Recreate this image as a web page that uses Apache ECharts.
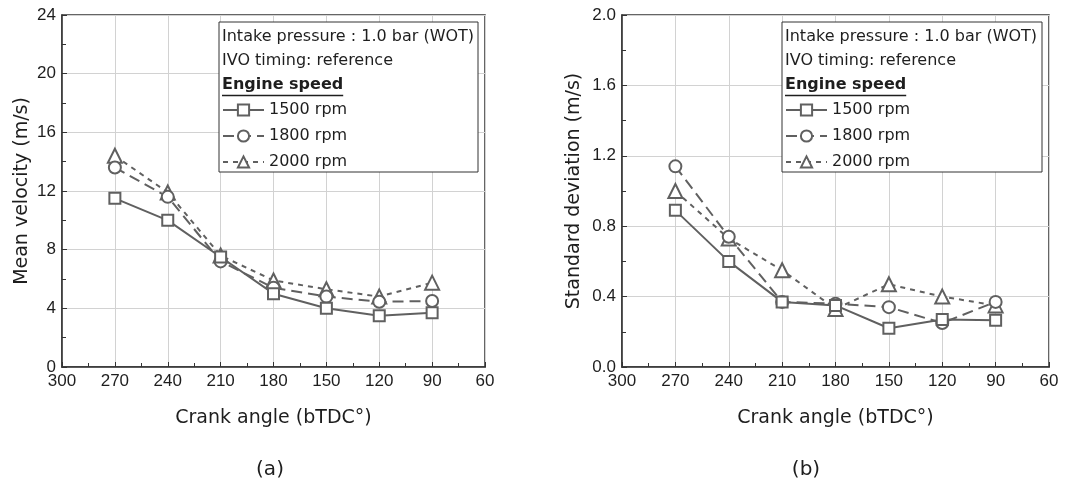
<!DOCTYPE html>
<html>
<head>
<meta charset="utf-8">
<script src="https://cdn.jsdelivr.net/npm/echarts@6/dist/echarts.min.js"></script>
<style>html,body{margin:0;padding:0;background:#fff}#c{width:1075px;height:489px}</style>
</head>
<body>
<div id="c"></div>
<script>
const crankAngles = [270, 240, 210, 180, 150, 120, 90];
const seriesNames = ['1500 rpm', '1800 rpm', '2000 rpm'];
const meanV1500 = [11.5, 10.0, 7.5, 5.0, 4.0, 3.5, 3.7];
const meanV1800 = [13.6, 11.6, 7.2, 5.4, 4.8, 4.45, 4.5];
const meanV2000 = [14.4, 11.9, 7.6, 5.9, 5.3, 4.8, 5.75];
const std1500 = [0.89, 0.60, 0.37, 0.35, 0.22, 0.27, 0.265];
const std1800 = [1.14, 0.74, 0.37, 0.36, 0.34, 0.25, 0.37];
const std2000 = [1.00, 0.73, 0.55, 0.33, 0.47, 0.40, 0.35];
const xTicks = [300, 270, 240, 210, 180, 150, 120, 90, 60];
const legendText1 = 'Intake pressure : 1.0 bar (WOT)';
const legendText2 = 'IVO timing: reference';
const legendHeader = 'Engine speed';
const yTitleA = 'Mean velocity (m/s)';
const yTitleB = 'Standard deviation (m/s)';
const xTitle = 'Crank angle (bTDC°)';
const captions = ['(a)', '(b)'];

const FONT = 'DejaVu Sans';
const TICKFONT = 'Liberation Sans';
const LINE = '#606060';
const TXT = '#1e1e1e';
const symbols = ['emptyRect', 'emptyCircle', 'emptyTriangle'];
const symSizes = [11, 12, 14];
const dashes = ['solid', [11, 6], [5, 5]];

function pairs(vals) { return crankAngles.map((a, i) => [a, vals[i]]); }

function mkSeries(name, vals, k, gi) {
  return {
    name: name, type: 'line', xAxisIndex: gi, yAxisIndex: gi,
    data: pairs(vals), symbol: symbols[k], symbolSize: symSizes[k],
    lineStyle: { color: LINE, width: 2, type: dashes[k] },
    itemStyle: { color: LINE, borderColor: LINE, borderWidth: 2 },
    emphasis: { disabled: true }, z: 5 - k
  };
}

function xAxisDef(gi) {
  return {
    gridIndex: gi, type: 'value', inverse: true, min: 60, max: 300, interval: 30,
    name: xTitle, nameLocation: 'middle', nameGap: 42,
    nameTextStyle: { fontFamily: FONT, fontSize: 19, color: TXT },
    axisLine: { lineStyle: { color: '#333', width: 1.5 } },
    axisTick: { inside: true, length: 5, lineStyle: { color: '#333' } },
    minorTick: { show: true, splitNumber: 2, length: 4, lineStyle: { color: '#333' } },
    axisLabel: { fontFamily: TICKFONT, fontSize: 17, color: TXT, margin: 6,
      formatter: v => xTicks.includes(v) ? String(v) : '' },
    splitLine: { show: true, lineStyle: { color: '#d2d2d2', width: 1 } }
  };
}

function yAxisDef(gi, max, interval, name, dec) {
  return {
    gridIndex: gi, type: 'value', min: 0, max: max, interval: interval,
    name: name, nameLocation: 'middle', nameGap: dec ? 38 : 30,
    nameTextStyle: { fontFamily: FONT, fontSize: 19, color: TXT },
    axisLine: { show: true, lineStyle: { color: '#333', width: 1.5 } },
    axisTick: { show: true, inside: true, length: 5, lineStyle: { color: '#333' } },
    minorTick: { show: true, splitNumber: 2, length: 4, lineStyle: { color: '#333' } },
    axisLabel: { fontFamily: TICKFONT, fontSize: 17, color: TXT, margin: 6,
      formatter: v => dec ? v.toFixed(1) : String(v) },
    splitLine: { show: true, lineStyle: { color: '#d2d2d2', width: 1 } }
  };
}

const boxes = [{ x: 219, y: 22, w: 259, h: 150 }, { x: 782, y: 22, w: 260, h: 150 }];
const captionX = [270, 806];

const cv = document.createElement('canvas').getContext('2d');
cv.font = 'bold 16px "' + FONT + '"';
const headerW = cv.measureText(legendHeader).width;

const graphics = [];
boxes.forEach((b, i) => {
  graphics.push({ type: 'rect', x: b.x, y: b.y, shape: { width: b.w, height: b.h },
    style: { fill: '#fff', stroke: '#333', lineWidth: 1 }, z: 50 });
  graphics.push({ type: 'text', x: b.x + 3, y: b.y + 15, z: 51,
    style: { text: legendText1, font: '16px "' + FONT + '"', fill: TXT, textVerticalAlign: 'middle' } });
  graphics.push({ type: 'text', x: b.x + 3, y: b.y + 39, z: 51,
    style: { text: legendText2, font: '16px "' + FONT + '"', fill: TXT, textVerticalAlign: 'middle' } });
  graphics.push({ type: 'text', x: b.x + 3, y: b.y + 63, z: 51,
    style: { text: legendHeader, font: 'bold 16px "' + FONT + '"', fill: TXT, textVerticalAlign: 'middle' } });
  graphics.push({ type: 'line', z: 51, shape: { x1: b.x + 3, y1: b.y + 73.5, x2: b.x + 3 + headerW, y2: b.y + 73.5 },
    style: { stroke: TXT, lineWidth: 1.5 } });
  graphics.push({ type: 'text', x: captionX[i], y: 470, z: 51,
    style: { text: captions[i], font: '20px "' + FONT + '"', fill: TXT, textAlign: 'center', textVerticalAlign: 'middle' } });
});

const legends = boxes.map(b => ({
  left: b.x + 3, top: b.y + 80, orient: 'vertical', itemGap: 10,
  itemWidth: 41, itemHeight: 14, z: 60, padding: 0,
  textStyle: { fontFamily: FONT, fontSize: 16, color: TXT },
  data: seriesNames, selectedMode: false
}));

const chart = echarts.init(document.getElementById('c'));
chart.setOption({
  animation: false,
  grid: [
    { left: 62, right: 590, top: 15, bottom: 122, show: true, borderColor: '#333', borderWidth: 1.5, backgroundColor: 'transparent' },
    { left: 622, right: 26, top: 15, bottom: 122, show: true, borderColor: '#333', borderWidth: 1.5, backgroundColor: 'transparent' }
  ],
  xAxis: [xAxisDef(0), xAxisDef(1)],
  yAxis: [yAxisDef(0, 24, 4, yTitleA, false), yAxisDef(1, 2.0, 0.4, yTitleB, true)],
  legend: legends,
  graphic: graphics,
  series: [
    mkSeries(seriesNames[0], meanV1500, 0, 0),
    mkSeries(seriesNames[1], meanV1800, 1, 0),
    mkSeries(seriesNames[2], meanV2000, 2, 0),
    mkSeries(seriesNames[0], std1500, 0, 1),
    mkSeries(seriesNames[1], std1800, 1, 1),
    mkSeries(seriesNames[2], std2000, 2, 1)
  ]
});
</script>
</body>
</html>
